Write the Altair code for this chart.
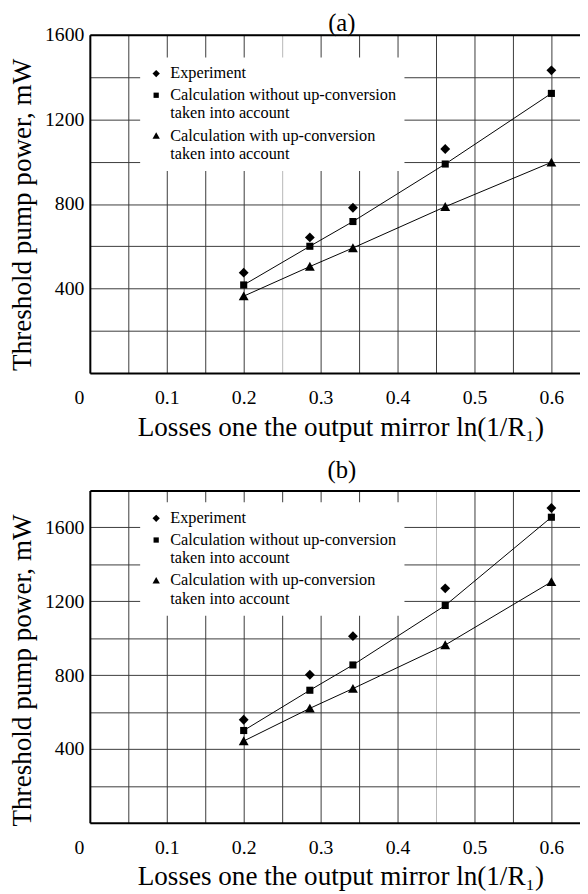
import altair as alt
import pandas as pd

# ---- data ----
x_vals = [0.2, 0.286, 0.342, 0.462, 0.6]

a_experiment = [475, 642, 782, 1060, 1432]
a_without = [417, 600, 717, 989, 1323]
a_with = [364, 504, 592, 787, 997]

b_experiment = [558, 802, 1011, 1270, 1705]
b_without = [500, 718, 855, 1177, 1655]
b_with = [443, 620, 727, 963, 1305]

series = [
    "Experiment",
    "Calculation without up-conversion|taken into account",
    "Calculation with up-conversion|taken into account",
]
# unit-box symbol paths: diamond, smaller square, triangle
shapes = [
    "M0,-1L1,0L0,1L-1,0Z",
    "M-0.72,-0.72L0.72,-0.72L0.72,0.72L-0.72,0.72Z",
    "M0,-0.95L1,0.85L-1,0.85Z",
]
x_ticks = [round(0.05 * i, 2) for i in range(13)]

FONT = "Liberation Serif"
X_TITLE = "Losses one the output mirror ln(1/R\u2081)"
Y_TITLE = "Threshold pump power, mW"


def frame(exp, wo, wi):
    rows = []
    for name, ys in zip(series, [exp, wo, wi]):
        for xv, yv in zip(x_vals, ys):
            rows.append({"x": xv, "y": yv, "series": name})
    return pd.DataFrame(rows)


def panel(label, exp, wo, wi, ymax, height, legend_y, light_x, title_offset):
    df = frame(exp, wo, wi)
    xscale = alt.Scale(domain=[0, 0.6372], nice=False, zero=False)
    yscale = alt.Scale(domain=[0, ymax], nice=False)
    grid_x = {
        "condition": {"test": f"abs(datum.value - {light_x}) < 0.001", "value": "#b8b8b8"},
        "value": "#3a3a3a",
    }
    xaxis = alt.Axis(
        values=x_ticks,
        labelExpr="datum.value == 0 ? '0' : (round(datum.value * 100) % 10 == 0 ? format(datum.value, '.1f') : '')",
        labelOffset={"condition": {"test": "datum.value == 0", "value": -11}, "value": 0},
        grid=True,
        gridColor=grid_x,
        gridWidth=1,
        ticks=False,
        domain=True,
        domainColor="black",
        domainWidth=2,
        labelFont=FONT,
        labelFontSize=20,
        labelColor="black",
        labelPadding=15,
        labelFlush=False,
        labelOverlap=False,
        title=X_TITLE,
        titleFont=FONT,
        titleFontSize=27.5,
        titleFontWeight="normal",
        titleColor="black",
        titlePadding=6,
        titleX=254,
    )
    yaxis = alt.Axis(
        values=list(range(200, 1601, 200)),
        labelExpr="datum.value % 400 == 0 ? format(datum.value, 'd') : ''",
        grid=True,
        gridColor="#3a3a3a",
        gridWidth=1,
        ticks=False,
        domain=True,
        domainColor="black",
        domainWidth=2,
        labelFont=FONT,
        labelFontSize=20,
        labelColor="black",
        labelPadding=6,
        labelOverlap=False,
        title=Y_TITLE,
        titleFont=FONT,
        titleFontSize=27.5,
        titleFontWeight="normal",
        titleColor="black",
        titlePadding=8,
        titleY=182,
    )
    legend = alt.Legend(
        title=None,
        orient="none",
        legendX=51,
        legendY=legend_y,
        fillColor="white",
        padding=8,
        labelFont=FONT,
        labelFontSize=16.5,
        labelColor="black",
        labelLimit=0,
        labelExpr="split(datum.label, '|')",
        symbolSize=55,
        symbolFillColor="black",
        symbolStrokeColor="black",
        symbolStrokeWidth=0,
        rowPadding=5,
        labelOffset=6,
    )
    lines = (
        alt.Chart(df)
        .transform_filter(alt.datum.series != series[0])
        .mark_line(color="black", strokeWidth=1)
        .encode(
            x=alt.X(
                "x:Q",
                scale=xscale,
                axis=alt.Axis(
                    orient="top", labels=False, ticks=False, grid=False,
                    domain=True, domainColor="black", domainWidth=2, title=None,
                ),
            ),
            y=alt.Y("y:Q", scale=yscale, axis=yaxis),
            detail="series:N",
        )
    )
    points = (
        alt.Chart(df)
        .mark_point(filled=True, color="black", opacity=1, size=100)
        .encode(
            x=alt.X("x:Q", scale=xscale, axis=xaxis),
            y=alt.Y("y:Q", scale=yscale, axis=yaxis),
            shape=alt.Shape(
                "series:N",
                scale=alt.Scale(domain=series, range=shapes),
                legend=legend,
            ),
        )
    )
    return (
        alt.layer(lines, points)
        .resolve_axis(x="independent")
        .properties(
            width=497,
            height=height,
            title=alt.TitleParams(
                label, font=FONT, fontSize=25, fontWeight="normal", color="black",
                dx=7, offset=title_offset,
            ),
        )
    )


panel_a = panel("(a)", a_experiment, a_without, a_with, 1600, 343, 23, 0.25, -11)
panel_b = panel("(b)", b_experiment, b_without, b_with, 1800, 337, 12, 0.45, 8)

chart = (
    alt.vconcat(panel_a, panel_b, spacing=17)
    .resolve_scale(shape="independent")
    .resolve_legend(shape="independent")
    .properties(padding={"left": 1, "top": -3, "right": 0, "bottom": 0})
    .configure_view(stroke=None)
)

chart.save("out.html", embed_options={"renderer": "svg", "actions": False})
